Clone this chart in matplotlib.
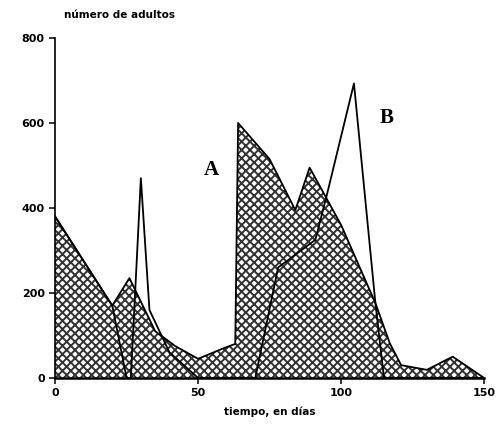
import numpy as np
import matplotlib
matplotlib.use("Agg")
import matplotlib.pyplot as plt

# curve A (first generation, peak near day 64) - hatched area
days_a = [0, 20, 26, 35, 42, 50, 59, 63, 64, 75, 84, 89, 100, 112, 117, 121, 130, 139, 150]
adults_a = [380, 170, 235, 110, 75, 45, 70, 80, 600, 515, 395, 495, 360, 176, 82, 30, 19, 50, 0]

# curve B (spike near day 30, peak near day 105) - line only
days_b = [0, 20, 25, 26.5, 30, 33, 40, 50, 70, 78, 91, 95, 104.5, 112, 115, 150]
adults_b = [380, 170, 0, 0, 470, 160, 60, 0, 0, 260, 325, 430, 693, 176, 0, 0]

xticks = [0, 50, 100, 150]
yticks = [0, 200, 400, 600, 800]

plt.rcParams["hatch.linewidth"] = 1.4

fig = plt.figure(figsize=(4.96, 4.42), dpi=100)
ax = fig.add_axes([0.111, 0.145, 0.865, 0.769])

ax.fill_between(days_a, 0, adults_a, facecolor="white", edgecolor="#333333",
                hatch="xxxx", linewidth=0)
ax.plot(days_a, adults_a, color="black", linewidth=1.3)
ax.plot(days_b, adults_b, color="black", linewidth=1.3)

ax.set_xlim(0, 150)
ax.set_ylim(0, 800)
ax.set_xticks(xticks)
ax.set_yticks(yticks)
ax.spines["top"].set_visible(False)
ax.spines["right"].set_visible(False)
ax.spines["left"].set_linewidth(1.2)
ax.spines["bottom"].set_linewidth(1.8)
ax.tick_params(direction="out", length=4, width=1.1, labelsize=8)
for lab in ax.get_xticklabels() + ax.get_yticklabels():
    lab.set_fontweight("bold")

ax.set_xlabel("tiempo, en días", fontsize=7.5, fontweight="bold", labelpad=6)
fig.text(0.24, 0.965, "número de adultos", fontsize=7.5, fontweight="bold",
         ha="center", va="center")

ax.text(54.5, 489, "A", fontsize=15, fontweight="bold", family="Liberation Serif",
        ha="center", va="center")
ax.text(116, 612, "B", fontsize=15, fontweight="bold", family="Liberation Serif",
        ha="center", va="center")

fig.savefig("out.png", dpi=100)
